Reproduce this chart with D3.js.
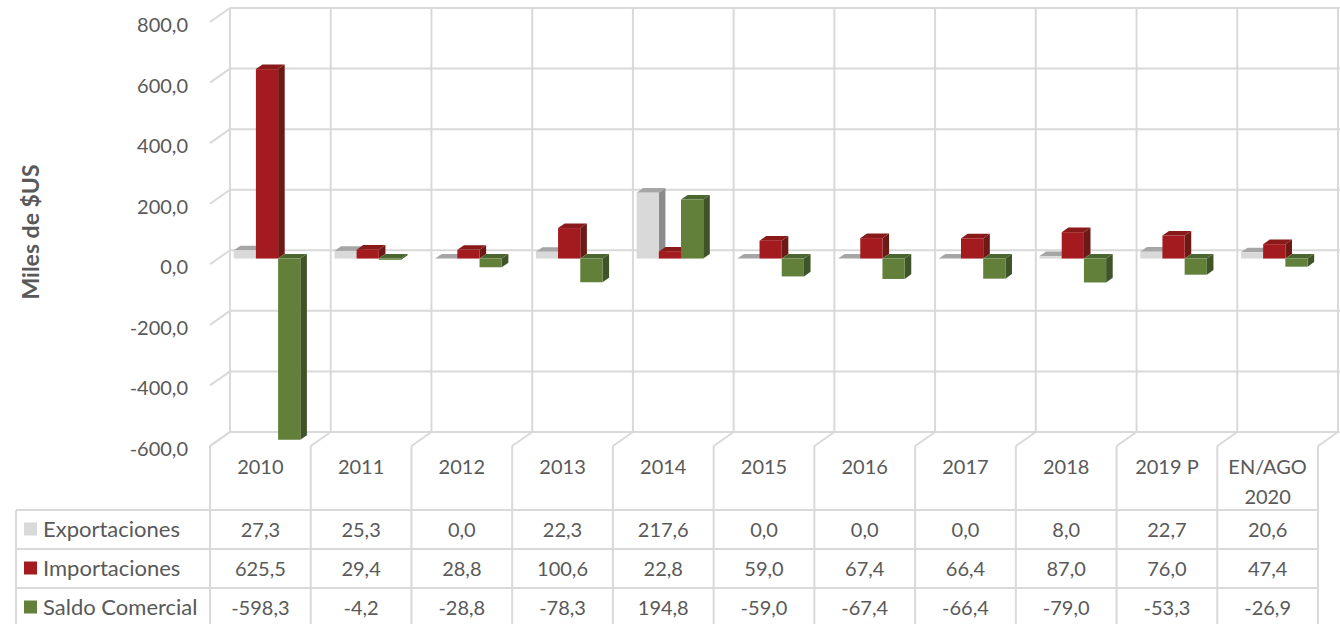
<!DOCTYPE html>
<html>
<head>
<meta charset="utf-8">
<script src="https://cdn.jsdelivr.net/npm/d3@7"></script>
<style>
  body { margin: 0; background: #fff; }
  text { font-family: Lato, "Open Sans", sans-serif; fill: #595959; }
</style>
</head>
<body>
<div id="chart"></div>
<script>
// data
const categories = ["2010", "2011", "2012", "2013", "2014", "2015", "2016", "2017", "2018", "2019 P", "EN/AGO 2020"];
const seriesNames = ["Exportaciones", "Importaciones", "Saldo Comercial"];
const exportaciones = [27.3, 25.3, 0.0, 22.3, 217.6, 0.0, 0.0, 0.0, 8.0, 22.7, 20.6];
const importaciones = [625.5, 29.4, 28.8, 100.6, 22.8, 59.0, 67.4, 66.4, 87.0, 76.0, 47.4];
const saldoComercial = [-598.3, -4.2, -28.8, -78.3, 194.8, -59.0, -67.4, -66.4, -79.0, -53.3, -26.9];
const yTicks = [-600, -400, -200, 0, 200, 400, 600, 800];

const width = 1340, height = 624;
const gridColor = "#d9d9d9";
// front, top, side shades for each series
const shades = [
  { front: "#d9d9d9", top: "#a6a6a6", side: "#8c8c8c" },
  { front: "#a31b1f", top: "#8a1a1a", side: "#6d1a16" },
  { front: "#62803a", top: "#4c6630", side: "#3f5428" }
];
const seriesValues = [exportaciones, importaciones, saldoComercial];

// oblique depth offset from the front plane to the back wall
const DX = 20, DY = -14;

const svg = d3.select("#chart").append("svg")
  .attr("width", width)
  .attr("height", height);

const x = d3.scaleBand().domain(categories).range([210, 1318]).padding(0);
const y = d3.scaleLinear().domain([-600, 800]).range([446, 22]);
const fmt = v => d3.format(".1f")(v).replace(".", ",").replace("−", "-");

// project a point at depth t (0 = front, 1 = back)
const P = (px, py, t) => [px + DX * t, py + DY * t];

const walls = svg.append("g")
  .attr("stroke", gridColor)
  .attr("stroke-width", 2)
  .attr("fill", "none");

// back wall horizontal grid
yTicks.forEach(v => {
  const [x0, y0] = P(x.range()[0], y(v), 1);
  const [x1] = P(x.range()[1], y(v), 1);
  walls.append("line").attr("x1", x0).attr("x2", x1 + 2).attr("y1", y0).attr("y2", y0);
  // side wall diagonals
  walls.append("line")
    .attr("x1", x.range()[0]).attr("y1", y(v))
    .attr("x2", x0).attr("y2", y0);
});

// back wall verticals + floor diagonals
const bounds = categories.map(c => x(c)).concat([x.range()[1]]);
bounds.forEach(bx => {
  const [bx1, top] = P(bx, y(800), 1);
  const [, bot] = P(bx, y(-600), 1);
  walls.append("line").attr("x1", bx1).attr("x2", bx1).attr("y1", top).attr("y2", bot);
  walls.append("line")
    .attr("x1", bx).attr("y1", y(-600))
    .attr("x2", bx1).attr("y2", bot);
});

// bars
const t0 = 0.41, t1 = 0.74;
const inner = d3.scaleBand().domain(d3.range(3)).range([15.5, 15.5 + 66.6]).padding(0);
const bars = svg.append("g");

categories.forEach((c, i) => {
  seriesValues.forEach((vals, s) => {
    const v = vals[i];
    const xl = x(c) + inner(s);
    const xr = xl + inner.bandwidth();
    const yTop = y(Math.max(0, v));
    const yBot = y(Math.min(0, v));
    const col = shades[s];
    const poly = pts => pts.map(p => p.join(",")).join(" ");

    // side face (right)
    bars.append("polygon")
      .attr("points", poly([P(xr, yTop, t0), P(xr, yTop, t1), P(xr, yBot, t1), P(xr, yBot, t0)]))
      .attr("fill", col.side);
    // top face
    bars.append("polygon")
      .attr("points", poly([P(xl, yTop, t0), P(xl, yTop, t1), P(xr, yTop, t1), P(xr, yTop, t0)]))
      .attr("fill", col.top);
    // front face
    const [fx, fy] = P(xl, yTop, t0);
    bars.append("rect")
      .attr("x", fx).attr("y", fy)
      .attr("width", inner.bandwidth())
      .attr("height", Math.max(0, yBot - yTop))
      .attr("fill", col.front);
  });
});

// y axis labels
svg.append("g").selectAll("text")
  .data(yTicks)
  .join("text")
  .attr("x", 188)
  .attr("y", d => y(d) + 2)
  .attr("text-anchor", "end")
  .attr("dominant-baseline", "central")
  .style("font-size", "20px")
  .text(d => fmt(d));

svg.append("text")
  .attr("transform", "translate(30,232) rotate(-90)")
  .attr("text-anchor", "middle")
  .attr("dominant-baseline", "central")
  .style("font-size", "23px")
  .style("font-weight", "bold")
  .text("Miles de $US");

// data table
const table = svg.append("g");
const tableLeft = 16, headerTop = y(-600), headerBottom = 510, rowH = 39;
const tableRight = x.range()[1];
const tableBottom = headerBottom + rowH * 3;

const tLines = table.append("g").attr("stroke", gridColor).attr("stroke-width", 2);
bounds.forEach(bx => {
  tLines.append("line").attr("x1", bx).attr("x2", bx).attr("y1", headerTop).attr("y2", tableBottom);
});
tLines.append("line").attr("x1", tableLeft).attr("x2", tableLeft).attr("y1", headerBottom).attr("y2", tableBottom);
d3.range(4).forEach(r => {
  const ry = headerBottom + r * rowH;
  tLines.append("line").attr("x1", tableLeft).attr("x2", tableRight).attr("y1", ry).attr("y2", ry);
});

// category headers (wrapped when too wide)
categories.forEach(c => {
  const words = c.split(" ");
  const cx = x(c) + x.bandwidth() / 2;
  const txt = table.append("text")
    .attr("x", cx).attr("y", 466)
    .attr("text-anchor", "middle")
    .attr("dominant-baseline", "central")
    .style("font-size", "20px")
    .text(c);
  if (txt.node().getComputedTextLength() > x.bandwidth() - 8 && words.length > 1) {
    txt.text(null);
    words.forEach((w, k) => {
      txt.append("tspan").attr("x", cx).attr("y", 466 + k * 30).text(w);
    });
  }
});

// rows
seriesNames.forEach((name, s) => {
  const cy = headerBottom + s * rowH + rowH / 2 - 1;
  table.append("rect")
    .attr("x", 24).attr("y", cy - 6)
    .attr("width", 13).attr("height", 13)
    .attr("fill", shades[s].front);
  table.append("text")
    .attr("x", 43).attr("y", cy)
    .attr("dominant-baseline", "central")
    .style("font-size", "22px")
    .text(name);
  seriesValues[s].forEach((v, i) => {
    table.append("text")
      .attr("x", x(categories[i]) + x.bandwidth() / 2)
      .attr("y", cy)
      .attr("text-anchor", "middle")
      .attr("dominant-baseline", "central")
      .style("font-size", "20px")
      .text(fmt(v));
  });
});
</script>
</body>
</html>
